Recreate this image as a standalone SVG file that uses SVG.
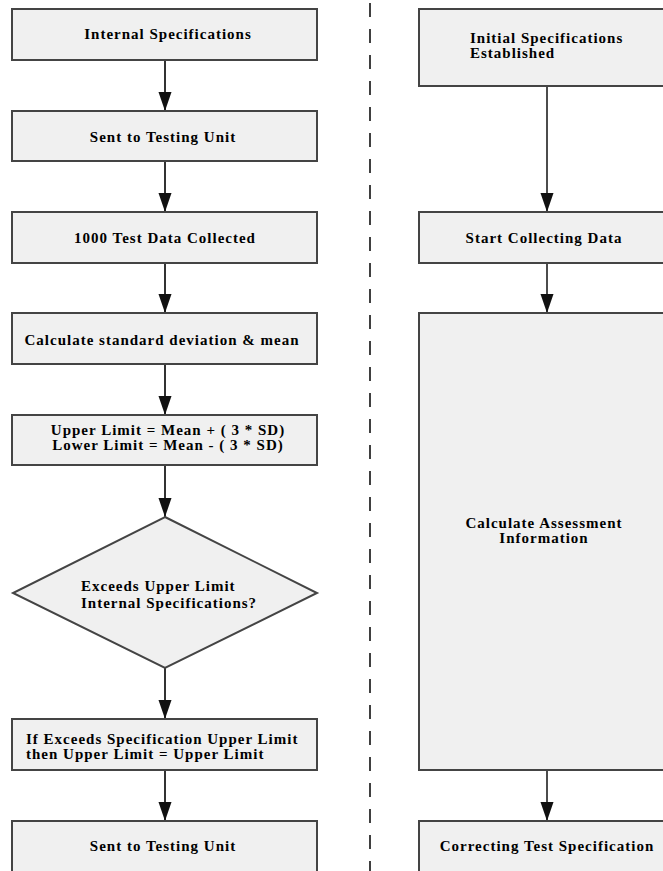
<svg xmlns="http://www.w3.org/2000/svg" width="663" height="871" viewBox="0 0 663 871">
<style>
.box{fill:#f0f0f0;stroke:#444;stroke-width:2}
.t{font-family:"Liberation Serif","Times New Roman",serif;font-weight:bold;font-size:15px;letter-spacing:1px;fill:#000}
.c{text-anchor:middle}
.ln{stroke:#333;stroke-width:2;fill:none}
.lnr{stroke:#111;stroke-width:1.5;fill:none}
.dash{stroke:#111;stroke-width:1.6;stroke-dasharray:14 12}
</style>
<defs>
<marker id="ah" markerUnits="userSpaceOnUse" markerWidth="20" markerHeight="14" refX="19" refY="6.5" orient="auto">
<path d="M0,0 L19,6.5 L0,13 z" fill="#111"/>
</marker>
</defs>
<rect width="663" height="871" fill="#fff"/>
<line class="dash" x1="370" y1="3" x2="370" y2="871"/>
<g id="connectors">
<line class="ln" x1="165" y1="60" x2="165" y2="111" marker-end="url(#ah)"/>
<line class="ln" x1="165" y1="161" x2="165" y2="212" marker-end="url(#ah)"/>
<line class="ln" x1="165" y1="263" x2="165" y2="313" marker-end="url(#ah)"/>
<line class="ln" x1="165" y1="364" x2="165" y2="415" marker-end="url(#ah)"/>
<line class="ln" x1="165" y1="465" x2="165" y2="517" marker-end="url(#ah)"/>
<line class="ln" x1="165" y1="668" x2="165" y2="719" marker-end="url(#ah)"/>
<line class="ln" x1="165" y1="770" x2="165" y2="821" marker-end="url(#ah)"/>
<line class="lnr" x1="547" y1="86" x2="547" y2="212" marker-end="url(#ah)"/>
<line class="lnr" x1="547" y1="263" x2="547" y2="313" marker-end="url(#ah)"/>
<line class="lnr" x1="547" y1="770" x2="547" y2="821" marker-end="url(#ah)"/>
</g>
<g id="n1"><rect class="box" x="12" y="9" width="305" height="51"/><text class="t c" x="168" y="39">Internal Specifications</text></g>
<g id="n2"><rect class="box" x="12" y="111" width="305" height="50"/><text class="t c" x="163" y="142">Sent to Testing Unit</text></g>
<g id="n3"><rect class="box" x="12" y="212" width="305" height="51"/><text class="t c" x="165" y="243">1000 Test Data Collected</text></g>
<g id="n4"><rect class="box" x="12" y="313" width="305" height="51"/><text class="t c" x="162" y="345">Calculate standard deviation &amp; mean</text></g>
<g id="n5"><rect class="box" x="12" y="415" width="305" height="50"/><text class="t c" x="168" y="435">Upper Limit = Mean + ( 3 * SD)</text><text class="t c" x="168" y="450">Lower Limit = Mean - ( 3 * SD)</text></g>
<g id="n6"><path class="box" d="M165,517 L317,593 L165,668 L13,593 z"/><text class="t" x="81" y="591">Exceeds Upper Limit</text><text class="t" x="81" y="608">Internal Specifications?</text></g>
<g id="n7"><rect class="box" x="12" y="719" width="305" height="51"/><text class="t" x="26" y="744">If Exceeds Specification Upper Limit</text><text class="t" x="26" y="759">then Upper Limit = Upper Limit</text></g>
<g id="n8"><rect class="box" x="12" y="821" width="305" height="60"/><text class="t c" x="163" y="851">Sent to Testing Unit</text></g>
<g id="r1"><rect class="box" x="419" y="9" width="256" height="77"/><text class="t" x="470" y="43">Initial Specifications</text><text class="t" x="470" y="58">Established</text></g>
<g id="r2"><rect class="box" x="419" y="212" width="256" height="51"/><text class="t c" x="544" y="243">Start Collecting Data</text></g>
<g id="r3"><rect class="box" x="419" y="313" width="256" height="457"/><text class="t c" x="544" y="528">Calculate Assessment</text><text class="t c" x="544" y="543">Information</text></g>
<g id="r4"><rect class="box" x="419" y="821" width="256" height="60"/><text class="t c" x="547" y="851">Correcting Test Specification</text></g>
</svg>
